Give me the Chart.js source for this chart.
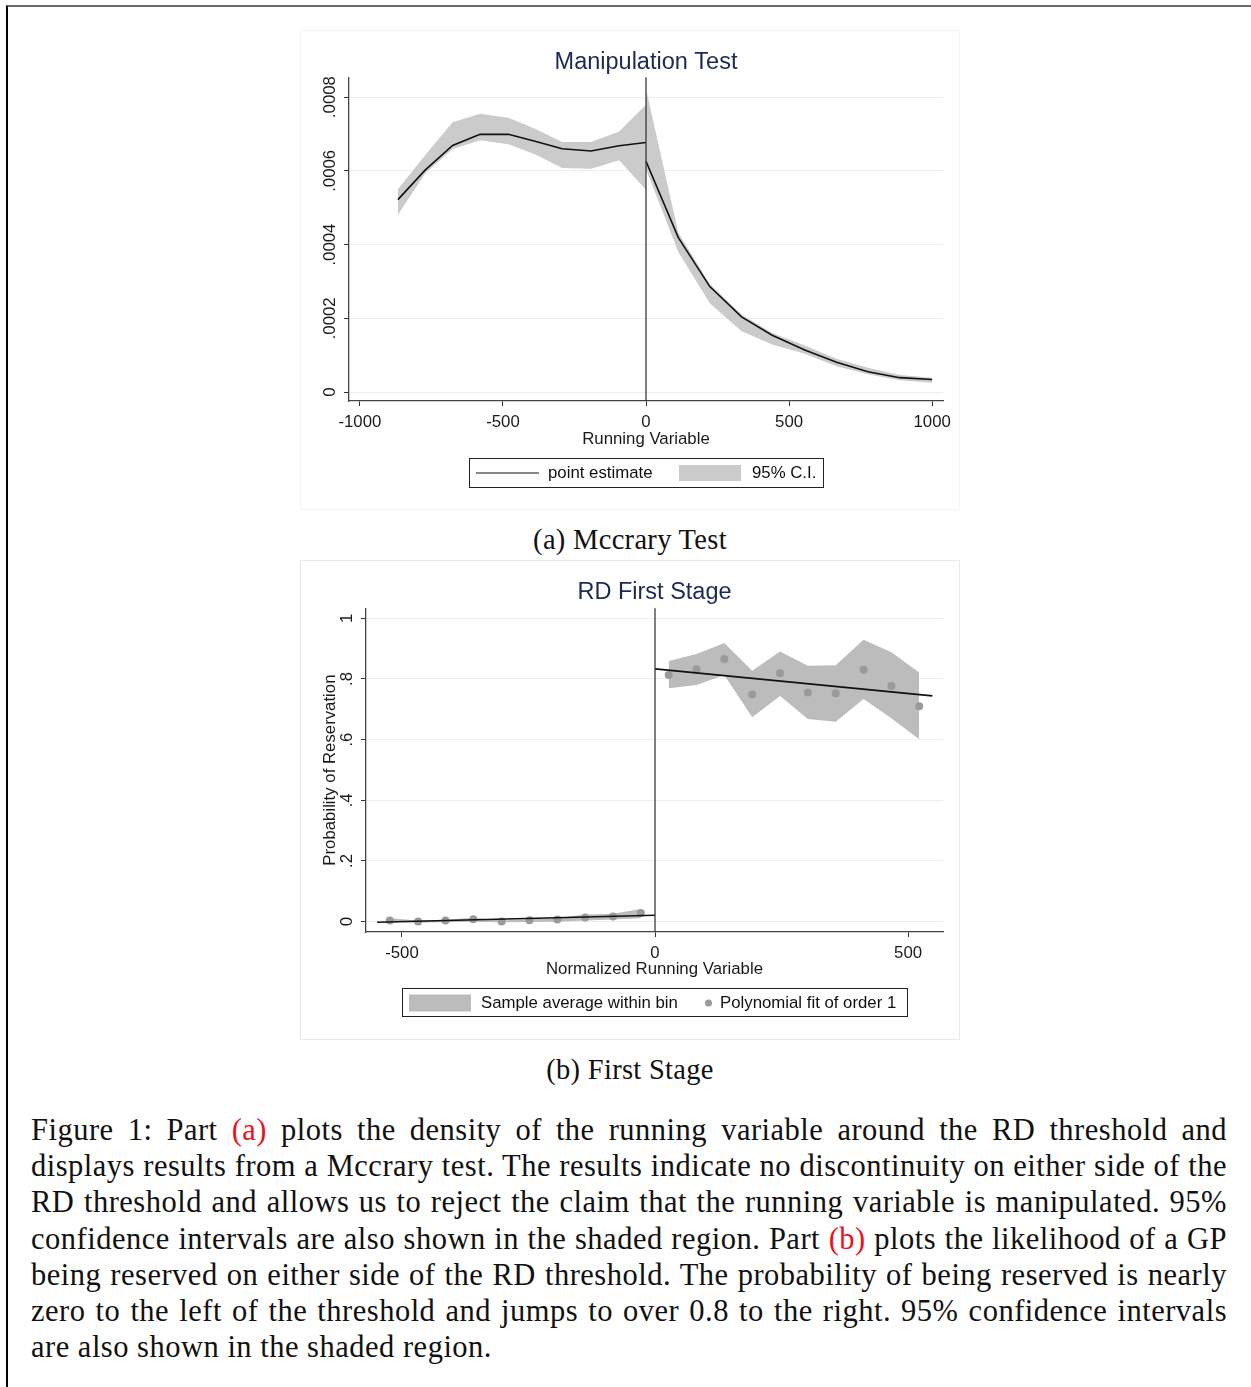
<!DOCTYPE html>
<html>
<head>
<meta charset="utf-8">
<script src="https://cdn.jsdelivr.net/npm/chart.js@4.4.1/dist/chart.umd.min.js"></script>
<title>Mccrary test and RD first stage</title>
<style>
  html, body { margin: 0; padding: 0; background: #fff; }
  body { width: 1251px; height: 1387px; position: relative; overflow: hidden; }
  #frame { position: absolute; left: 6px; top: 5px; width: 1260px; height: 1400px;
           border-left: 2px solid #000; border-top: 2px solid #6a6a6a; }
  .panel { position: absolute; left: 300px; width: 660px; height: 480px; box-sizing: border-box; }
  #panel1 { top: 30px; border: 1px solid #f3f5f5; }
  #panel2 { top: 560px; border: 1px solid #e2ebed; }
  .panel canvas { position: absolute; left: 0; top: 0; }
  .legend { position: absolute; top: 427px; height: 30px; box-sizing: border-box; border: 1px solid #222;
            font: 16.8px "Liberation Sans", Arial, sans-serif; color: #111; }
  .legend span { position: absolute; top: 50%; transform: translateY(-50%); white-space: nowrap; }
  .sub { position: absolute; left: 0; width: 1260px; text-align: center;
         font: 28.5px "Liberation Serif", "Times New Roman", serif; letter-spacing: 0.3px; color: #111; }
  #para { position: absolute; left: 31px; top: 1112px; width: 1196px;
          font: 30.5px "Liberation Serif", "Times New Roman", serif; letter-spacing: 0.5px; color: #111; }
  #para div { height: 36.2px; line-height: 36.2px; white-space: nowrap; }
  #para div.j { text-align: justify; text-align-last: justify; white-space: normal; }
  .red { color: #e8141b; }
</style>
</head>
<body>
<div id="frame"></div>

<div class="panel" id="panel1">
  <canvas id="density_chart" width="660" height="480"></canvas>
  <div class="legend" id="legend1" style="left:168px; width:355px;"></div>
</div>
<div class="sub" style="top:524px;">(a) Mccrary Test</div>

<div class="panel" id="panel2">
  <canvas id="stage_chart" width="660" height="480"></canvas>
  <div class="legend" id="legend2" style="left:101px; width:506px; height:29px;"></div>
</div>
<div class="sub" style="top:1054px;">(b) First Stage</div>

<div id="para">
  <div class="j">Figure 1: Part <span class="red">(a)</span> plots the density of the running variable around the RD threshold and</div>
  <div class="j">displays results from a Mccrary test. The results indicate no discontinuity on either side of the</div>
  <div class="j">RD threshold and allows us to reject the claim that the running variable is manipulated. 95%</div>
  <div class="j">confidence intervals are also shown in the shaded region. Part <span class="red">(b)</span> plots the likelihood of a GP</div>
  <div class="j">being reserved on either side of the RD threshold. The probability of being reserved is nearly</div>
  <div class="j">zero to the left of the threshold and jumps to over 0.8 to the right. 95% confidence intervals</div>
  <div>are also shown in the shaded region.</div>
</div>

<script type="text/javascript">
// ---- panel (a): density of running variable ----
var leftX   = [-867, -772, -676, -580, -481, -388, -293, -192, -94, 0];
var leftEst = [0.000522, 0.000602, 0.000669, 0.000699, 0.000699, 0.000680, 0.000660, 0.000654, 0.000668, 0.000677];
var leftHi  = [0.000550, 0.000642, 0.000732, 0.000755, 0.000744, 0.000714, 0.000678, 0.000678, 0.000707, 0.000779];
var leftLo  = [0.000481, 0.000593, 0.000659, 0.000683, 0.000672, 0.000645, 0.000608, 0.000606, 0.000629, 0.000549];

var rightX   = [0, 113, 223, 334, 441, 555, 666, 776, 887, 1000];
var rightEst = [0.000626, 0.000419, 0.000286, 0.000204, 0.000154, 0.000114, 0.000081, 0.000055, 0.000039, 0.000034];
var rightHi  = [0.000822, 0.000432, 0.000293, 0.000210, 0.000160, 0.000126, 0.000090, 0.000066, 0.000046, 0.000039];
var rightLo  = [0.000605, 0.000380, 0.000241, 0.000165, 0.000129, 0.000104, 0.000070, 0.000048, 0.000032, 0.000025];

var densXTicks = [-1000, -500, 0, 500, 1000];
var densYTicks = [0, 0.0002, 0.0004, 0.0006, 0.0008];
var densYLabels = ["0", ".0002", ".0004", ".0006", ".0008"];

// ---- panel (b): first stage ----
var binLeftX  = [-524, -468, -414, -359, -303, -248, -193, -138, -83, -28];
var binLeftY  = [0.004, 0.001, 0.004, 0.008, 0.001, 0.005, 0.007, 0.014, 0.017, 0.029];
var binLeftHi = [0.011, 0.004, 0.006, 0.013, 0.004, 0.008, 0.012, 0.024, 0.026, 0.042];
var binLeftLo = [-0.002, -0.003, -0.002, 0.000, -0.002, -0.001, 0.000, 0.004, 0.007, 0.011];

var binRightX  = [27, 82, 137, 192, 247, 302, 357, 412, 467, 522];
var binRightY  = [0.813, 0.832, 0.866, 0.749, 0.819, 0.755, 0.753, 0.830, 0.777, 0.710];
var binRightHi = [0.859, 0.882, 0.918, 0.827, 0.890, 0.843, 0.845, 0.929, 0.888, 0.821];
var binRightLo = [0.769, 0.780, 0.813, 0.674, 0.744, 0.668, 0.659, 0.734, 0.670, 0.601];

var fitLeftX  = [-549, 0];
var fitLeftY  = [-0.002, 0.021];
var fitRightX = [0, 548];
var fitRightY = [0.833, 0.744];

var stageXTicks = [-500, 0, 500];
var stageYTicks = [0, 0.2, 0.4, 0.6, 0.8, 1];
var stageYLabels = ["0", ".2", ".4", ".6", ".8", "1"];

var SANS = '"Liberation Sans", Arial, sans-serif';
var FS = 16.8;
Chart.defaults.font.family = SANS;
Chart.defaults.color = "#1a1a1a";

function pts(xs, ys) {
    return xs.map(function (x, i) { return {x: x, y: ys[i]}; });
}

// y tick labels are written turned, the way stata does it
var turnedYLabels = {
    id: "turnedYLabels",
    afterDraw: function (chart, args, opts) {
        var s = chart.scales.y, ctx = chart.ctx;
        ctx.save();
        ctx.font = FS + "px " + SANS;
        ctx.fillStyle = "#1a1a1a";
        ctx.textAlign = "center";
        ctx.textBaseline = "middle";
        s.ticks.forEach(function (t, i) {
            ctx.save();
            ctx.translate(s.right - 19, s.getPixelForValue(t.value));
            ctx.rotate(-Math.PI / 2);
            ctx.fillText(opts.labels[i], 0, 0);
            ctx.restore();
        });
        ctx.restore();
    }
};

// vertical line at the threshold
var thresholdLine = {
    id: "thresholdLine",
    afterDatasetsDraw: function (chart) {
        var ctx = chart.ctx, a = chart.chartArea;
        var x = chart.scales.x.getPixelForValue(0);
        ctx.save();
        ctx.strokeStyle = "#3a3a3a";
        ctx.lineWidth = 1.3;
        ctx.beginPath();
        ctx.moveTo(x, a.top);
        ctx.lineTo(x, a.bottom);
        ctx.stroke();
        ctx.restore();
    }
};

function baseOptions(xr, yr, xTicks, yTicks, yLabels, title, xTitle, yTitle, yWidth, xHeight, areaBottom, titlePadBottom) {
    return {
        responsive: false,
        devicePixelRatio: 1,
        animation: false,
        layout: {padding: {left: 0, right: 18, top: 0, bottom: 480 - xHeight - areaBottom}},
        plugins: {
            legend: {display: false},
            tooltip: {enabled: false},
            filler: {drawTime: "beforeDatasetsDraw"},
            title: {
                display: true, text: title, fullSize: false,
                color: "#1b2a4e",
                font: {size: 23.5, weight: "normal", family: SANS},
                padding: {top: 17, bottom: titlePadBottom}
            },
            turnedYLabels: {labels: yLabels}
        },
        scales: {
            x: {
                type: "linear", min: xr[0], max: xr[1],
                afterBuildTicks: function (s) { s.ticks = xTicks.map(function (v) { return {value: v}; }); },
                afterFit: function (s) { s.height = xHeight; },
                grid: {drawOnChartArea: false, tickLength: 5, tickColor: "#333"},
                border: {color: "#444", width: 1.3},
                ticks: {font: {size: FS}, padding: 6, maxRotation: 0, autoSkip: false,
                        callback: function (v) { return String(v); }},
                title: {display: true, text: xTitle, font: {size: FS}, padding: {top: 0, bottom: 0}}
            },
            y: {
                type: "linear", min: yr[0], max: yr[1],
                afterBuildTicks: function (s) { s.ticks = yTicks.map(function (v) { return {value: v}; }); },
                afterFit: function (s) { s.width = yWidth; },
                grid: {color: "#e6eff1", lineWidth: 1, tickLength: 5, tickColor: "#333"},
                border: {color: "#444", width: 1.3},
                ticks: {display: false},
                title: {display: !!yTitle, text: yTitle || "", font: {size: FS}, padding: {top: 19, bottom: 0}}
            }
        }
    };
}

var band1 = "#cbcbcb";
new Chart(document.getElementById("density_chart"), {
    type: "line",
    data: {
        datasets: [
            {label: "point estimate", data: pts(leftX, leftEst), borderColor: "#111", borderWidth: 1.6, pointRadius: 0, fill: false},
            {label: "point estimate", data: pts(rightX, rightEst), borderColor: "#111", borderWidth: 1.6, pointRadius: 0, fill: false},
            {label: "95% C.I.", data: pts(leftX, leftHi), borderWidth: 0, pointRadius: 0, backgroundColor: band1, fill: "+1"},
            {label: "95% C.I.", data: pts(leftX, leftLo), borderWidth: 0, pointRadius: 0, fill: false},
            {label: "95% C.I.", data: pts(rightX, rightHi), borderWidth: 0, pointRadius: 0, backgroundColor: band1, fill: "+1"},
            {label: "95% C.I.", data: pts(rightX, rightLo), borderWidth: 0, pointRadius: 0, fill: false}
        ]
    },
    options: baseOptions([-1038, 1038], [-0.0000243, 0.000854], densXTicks, densYTicks, densYLabels,
                         "Manipulation Test", "Running Variable", null, 48, 48, 370, 1),
    plugins: [turnedYLabels, thresholdLine]
});

var band2 = "#bcbcbc";
var dotColor = "#9a9a9a";
new Chart(document.getElementById("stage_chart"), {
    type: "line",
    data: {
        datasets: [
            {label: "fit", data: pts(fitLeftX, fitLeftY), borderColor: "#111", borderWidth: 1.6, pointRadius: 0, fill: false},
            {label: "fit", data: pts(fitRightX, fitRightY), borderColor: "#111", borderWidth: 1.6, pointRadius: 0, fill: false},
            {label: "bins", data: pts(binLeftX, binLeftY), showLine: false, pointRadius: 4, pointBorderWidth: 0, pointBackgroundColor: dotColor},
            {label: "bins", data: pts(binRightX, binRightY), showLine: false, pointRadius: 4, pointBorderWidth: 0, pointBackgroundColor: dotColor},
            {label: "band", data: pts(binLeftX, binLeftHi), borderWidth: 0, pointRadius: 0, backgroundColor: band2, fill: "+1"},
            {label: "band", data: pts(binLeftX, binLeftLo), borderWidth: 0, pointRadius: 0, fill: false},
            {label: "band", data: pts(binRightX, binRightHi), borderWidth: 0, pointRadius: 0, backgroundColor: band2, fill: "+1"},
            {label: "band", data: pts(binRightX, binRightLo), borderWidth: 0, pointRadius: 0, fill: false}
        ]
    },
    options: baseOptions([-571, 569], [-0.034, 1.033], stageXTicks, stageYTicks, stageYLabels,
                         "RD First Stage", "Normalized Running Variable", "Probability of Reservation", 65, 47, 371, 2),
    plugins: [turnedYLabels, thresholdLine]
});

// legends (stata style boxes)
document.getElementById("legend1").innerHTML =
    '<span style="left:6px; width:63px; height:0; border-top:1.6px solid #111;"></span>' +
    '<span style="left:78px;">point estimate</span>' +
    '<span style="left:209px; width:62px; height:16px; background:' + band1 + ';"></span>' +
    '<span style="left:282px;">95% C.I.</span>';
document.getElementById("legend2").innerHTML =
    '<span style="left:6px; width:62px; height:17px; background:' + band2 + ';"></span>' +
    '<span style="left:78px;">Sample average within bin</span>' +
    '<span style="left:302px; width:7px; height:7px; border-radius:50%; background:' + dotColor + ';"></span>' +
    '<span style="left:317px;">Polynomial fit of order 1</span>';
</script>
</body>
</html>
